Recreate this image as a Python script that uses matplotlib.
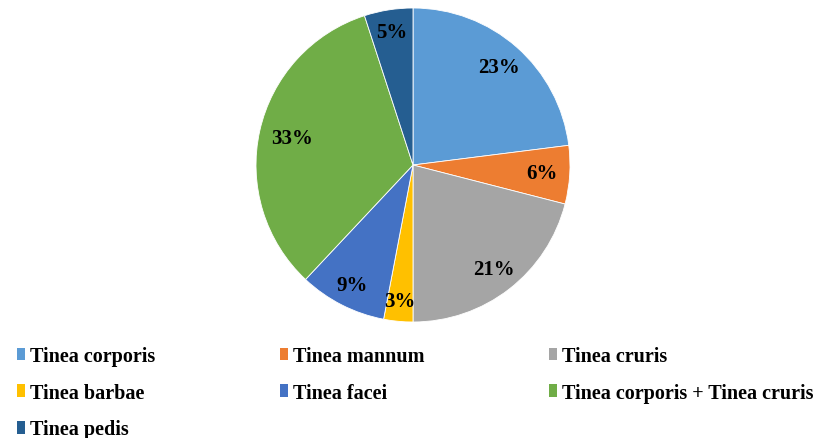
import numpy as np
import matplotlib.pyplot as plt
from matplotlib.patches import Patch

labels = ['Tinea corporis', 'Tinea mannum', 'Tinea cruris', 'Tinea barbae',
          'Tinea facei', 'Tinea corporis + Tinea cruris', 'Tinea pedis']
shares = [23, 6, 21, 3, 9, 33, 5]
colors = ['#5B9BD5', '#ED7D31', '#A5A5A5', '#FFC000', '#4472C4', '#70AD47', '#255E91']

plt.rcParams['font.family'] = ['Liberation Serif', 'DejaVu Serif']
plt.rcParams['font.weight'] = 'bold'

fig = plt.figure(figsize=(8.24, 4.39), dpi=100)
ax = fig.add_axes([256 / 824, 116 / 439, 314 / 824, 314 / 439])

wedges, texts, autotexts = ax.pie(
    shares, colors=colors, startangle=90, counterclock=False,
    autopct='%d%%', pctdistance=0.8,
    wedgeprops=dict(edgecolor='white', linewidth=0.6),
    textprops=dict(fontsize=15, fontweight='bold', color='black'))

# label distance from centre, per slice (as placed in the original)
label_dist = [0.83, 0.82, 0.84, 0.87, 0.86, 0.79, 0.86]
for t, d in zip(autotexts, label_dist):
    x, y = t.get_position()
    scale = d / np.hypot(x, y)
    t.set_position((x * scale, y * scale))

ax.set_xlim(-1, 1)
ax.set_ylim(-1, 1)

# Legend, filled row by row in the picture
order = [0, 3, 6, 1, 4, 2, 5]
handles = [Patch(facecolor=colors[i], edgecolor='none') for i in order]
fig.legend(handles, [labels[i] for i in order], ncol=3,
           loc='upper left', bbox_to_anchor=(9 / 824, 1 - 339 / 439),
           borderaxespad=0, frameon=False, fontsize=14.5,
           handlelength=0.38, handleheight=0.6, handletextpad=0.25,
           columnspacing=6.2, labelspacing=0.83)

fig.savefig('out.png', dpi=100)
